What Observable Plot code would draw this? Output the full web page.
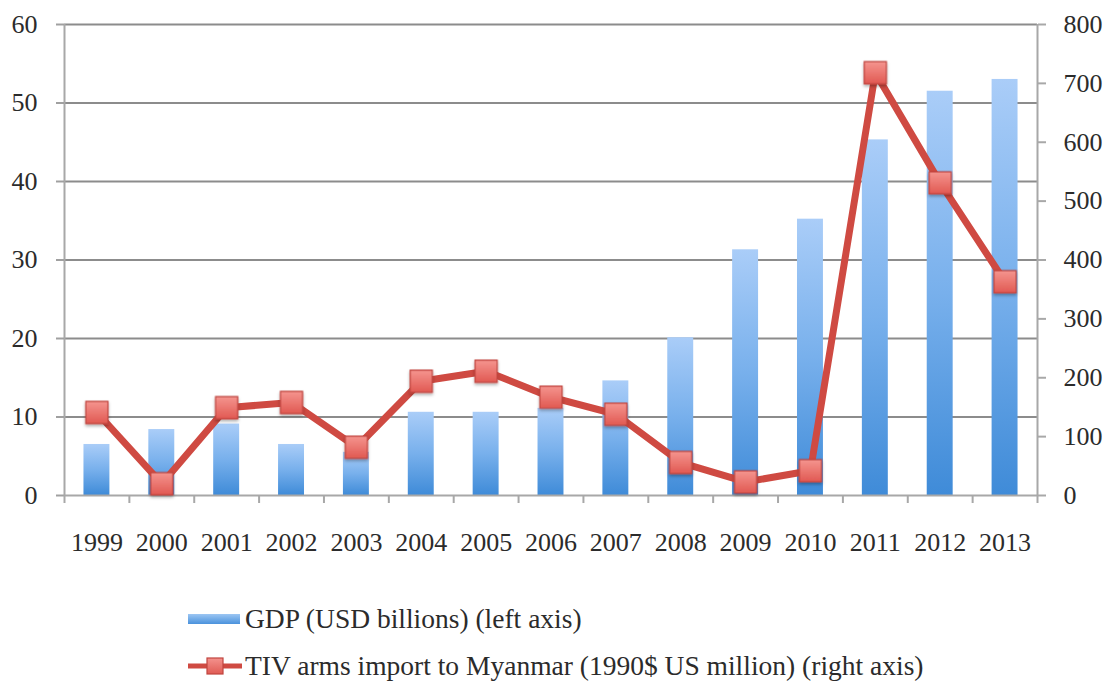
<!DOCTYPE html>
<html>
<head>
<meta charset="utf-8">
<script src="https://cdn.jsdelivr.net/npm/d3@7"></script>
<script src="https://cdn.jsdelivr.net/npm/@observablehq/plot@0.6"></script>
<style>
  html, body { margin: 0; padding: 0; background: #fff; }
  #wrap { position: relative; width: 1114px; height: 686px; font-family: "Liberation Serif", "DejaVu Serif", serif; color: #2b2b2b; }
  #chart { position: absolute; left: 0; top: 0; }
  #chart g[aria-label="dot"] { filter: url(#shadow); }
  .leg { position: absolute; left: 188px; display: flex; align-items: center; font-size: 27.5px; color: #2b2b2b; white-space: nowrap; }
  .leg svg { margin-right: 3px; }
</style>
</head>
<body>
<div id="wrap">
  <div id="chart"></div>
  <div class="leg" style="top:602px;">
    <svg width="54" height="34"><defs><linearGradient id="lg1" x1="0" y1="0" x2="0" y2="1"><stop offset="0" stop-color="#9cc6f3"/><stop offset="1" stop-color="#4a92dc"/></linearGradient></defs><rect x="0" y="12" width="52" height="10" fill="url(#lg1)"/></svg>
    <span>GDP (USD billions) (left axis)</span>
  </div>
  <div class="leg" style="top:649px;">
    <svg width="54" height="34"><defs><linearGradient id="lg2" x1="0" y1="0" x2="0" y2="1"><stop offset="0" stop-color="#f4928d"/><stop offset="1" stop-color="#e05b54"/></linearGradient></defs><line x1="0" y1="17" x2="54" y2="17" stroke="#cf4a42" stroke-width="5"/><rect x="19" y="9" width="16" height="16" fill="url(#lg2)" stroke="#c0453f" stroke-width="1.2"/></svg>
    <span>TIV arms import to Myanmar (1990$ US million) (right axis)</span>
  </div>
</div>
<script>
// ---- data ----
const years = [1999, 2000, 2001, 2002, 2003, 2004, 2005, 2006, 2007, 2008, 2009, 2010, 2011, 2012, 2013];
const gdp   = [6.5, 8.4, 9.1, 6.5, 5.5, 10.6, 10.6, 11.1, 14.6, 20.1, 31.3, 35.2, 45.3, 51.5, 53.0];
const tiv   = [141, 20, 149, 158, 82, 194, 211, 167, 138, 56, 23, 42, 718, 531, 363];
const gdpTicks = [0, 10, 20, 30, 40, 50, 60];
const tivTicks = [0, 100, 200, 300, 400, 500, 600, 700, 800];
const gdpMax = 60, tivMax = 800;

const rows = years.map((y, i) => ({year: y, gdp: gdp[i], tiv: tiv[i], tivScaled: tiv[i] * gdpMax / tivMax}));
const bounds = years.map(y => y - 0.5).concat([years[years.length - 1] + 0.5]);

const ns = "http://www.w3.org/2000/svg";
const defsMark = () => {
  const g = document.createElementNS(ns, "defs");
  g.innerHTML = `
    <linearGradient id="barGrad" x1="0" y1="0" x2="0" y2="1">
      <stop offset="0" stop-color="#aacdf8"/>
      <stop offset="0.5" stop-color="#78b0ec"/>
      <stop offset="1" stop-color="#3f8bd8"/>
    </linearGradient>
    <linearGradient id="mkGrad" x1="0" y1="0" x2="0" y2="1">
      <stop offset="0" stop-color="#f5958f"/>
      <stop offset="1" stop-color="#e15952"/>
    </linearGradient>
    <filter id="shadow" x="-50%" y="-50%" width="200%" height="200%">
      <feDropShadow dx="0" dy="2" stdDeviation="1.5" flood-color="#000" flood-opacity="0.3"/>
    </filter>`;
  return g;
};

const chart = Plot.plot({
  width: 1114,
  height: 575,
  marginTop: 24,
  marginBottom: 80,
  marginLeft: 64,
  marginRight: 77,
  style: {fontFamily: "'Liberation Serif', 'DejaVu Serif', serif", fontSize: "26px", color: "#2b2b2b", background: "#fff"},
  x: {domain: [bounds[0], bounds[bounds.length - 1]]},
  y: {domain: [0, gdpMax]},
  marks: [
    defsMark,
    Plot.ruleY(gdpTicks.slice(1), {stroke: "#8c8c8c", strokeWidth: 2}),
    Plot.rectY(rows, {x1: d => d.year - 0.2, x2: d => d.year + 0.2, y: "gdp", fill: "url(#barGrad)"}),
    Plot.ruleX([bounds[0], bounds[bounds.length - 1]], {y1: 0, y2: gdpMax, stroke: "#a8a8a8", strokeWidth: 2}),
    Plot.ruleY([0], {stroke: "#a8a8a8", strokeWidth: 2}),
    Plot.axisY(gdpTicks, {anchor: "left", tickSize: 8, tickPadding: 19, stroke: "#a0a0a0", strokeWidth: 2, label: null, fill: "#2b2b2b"}),
    Plot.axisY(tivTicks.map(v => v * gdpMax / tivMax), {anchor: "right", tickSize: 8, tickPadding: 18, stroke: "#a8a8a8", strokeWidth: 2, label: null, fill: "#2b2b2b", tickFormat: d => String(Math.round(d * tivMax / gdpMax))}),
    Plot.axisX(bounds, {anchor: "bottom", tickSize: 8, tickFormat: () => "", stroke: "#a8a8a8", strokeWidth: 2, label: null}),
    Plot.axisX(years, {anchor: "bottom", tickSize: 0, tickPadding: 37, tickFormat: d => String(d), label: null, fill: "#2b2b2b"}),
    Plot.line(rows, {x: "year", y: "tivScaled", stroke: "#cf4a42", strokeWidth: 7, strokeLinejoin: "round"}),
    Plot.dot(rows, {x: "year", y: "tivScaled", symbol: "square", r: 12.5, fill: "url(#mkGrad)", stroke: "#c0453f", strokeWidth: 1.2})
  ]
});
document.getElementById("chart").appendChild(chart);
</script>
</body>
</html>
